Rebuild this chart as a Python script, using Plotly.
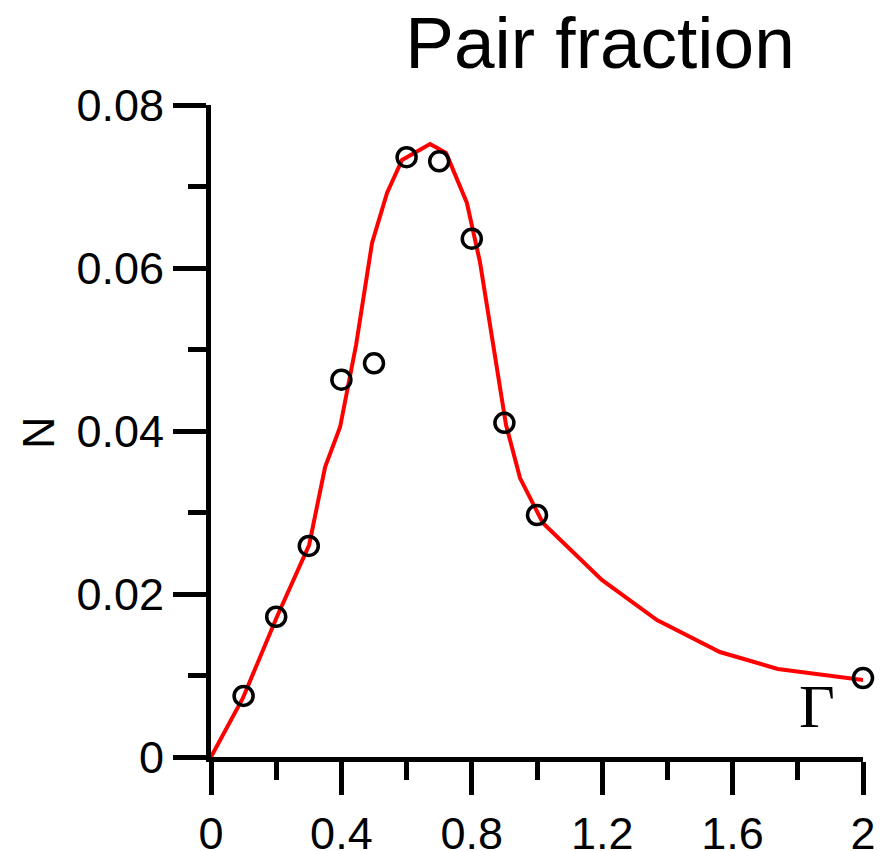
import plotly.graph_objects as go

# Measured points (open circles)
gamma_pts = [0.1, 0.2, 0.3, 0.4, 0.5, 0.6, 0.7, 0.8, 0.9, 1.0, 2.0]
n_pts = [0.0075, 0.0172, 0.0259, 0.0463, 0.0483, 0.0736, 0.0731, 0.0636, 0.0410, 0.0297, 0.0097]

# Theory curve (red line)
gamma_curve = [0.0, 0.098, 0.202, 0.301, 0.350, 0.396, 0.445, 0.494, 0.540, 0.586,
               0.672, 0.721, 0.785, 0.825, 0.905, 0.948, 1.018, 1.199, 1.368, 1.561,
               1.739, 2.0]
n_curve = [0.0, 0.00724, 0.01718, 0.02601, 0.03558, 0.04049, 0.05055, 0.06307, 0.06920,
           0.07325, 0.07521, 0.07411, 0.06798, 0.06074, 0.04074, 0.03423, 0.02871,
           0.02172, 0.01681, 0.01288, 0.01080, 0.00945]

x_ticks = [0, 0.4, 0.8, 1.2, 1.6, 2]
x_ticklabels = ["0", "0.4", "0.8", "1.2", "1.6", "2"]
y_ticks = [0, 0.02, 0.04, 0.06, 0.08]
y_ticklabels = ["0", "0.02", "0.04", "0.06", "0.08"]

fig = go.Figure()
fig.add_trace(go.Scatter(x=gamma_curve, y=n_curve, mode="lines",
                         line=dict(color="#ff0000", width=4), cliponaxis=False,
                         showlegend=False))
fig.add_trace(go.Scatter(x=gamma_pts, y=n_pts, mode="markers",
                         marker=dict(symbol="circle-open", size=19, color="black",
                                     line=dict(width=3.5, color="black")),
                         cliponaxis=False, showlegend=False))

font_fam = "Liberation Sans, Arial, sans-serif"
axis_common = dict(showline=True, linecolor="black", linewidth=5, ticks="outside",
                   ticklen=33, tickwidth=5, tickcolor="black", showgrid=False,
                   zeroline=False, automargin=False,
                   tickfont=dict(family=font_fam, size=45, color="black"))

fig.update_xaxes(range=[0, 2], tickvals=x_ticks, ticktext=x_ticklabels,
                 minor=dict(ticks="outside", ticklen=18, tickwidth=5, tickcolor="black",
                            dtick=0.2, tick0=0),
                 **axis_common)
fig.update_yaxes(range=[0, 0.08], tickvals=y_ticks, ticktext=y_ticklabels,
                 minor=dict(ticks="outside", ticklen=18, tickwidth=5, tickcolor="black",
                            dtick=0.01, tick0=0),
                 **axis_common)

fig.update_layout(
    width=885, height=851,
    margin=dict(l=211, r=22, t=105, b=94),
    paper_bgcolor="white", plot_bgcolor="white",
    title=dict(text="Pair fraction", xref="container", x=600 / 885, xanchor="center",
               yref="container", y=1 - 42 / 851, yanchor="middle",
               font=dict(family=font_fam, size=73, color="black")),
    annotations=[
        dict(text="N", xref="paper", yref="paper", x=(38 - 211) / 652, y=(757 - 432) / 652,
             showarrow=False, textangle=-90, xanchor="center", yanchor="middle",
             font=dict(family=font_fam, size=45, color="black")),
        dict(text="Γ", xref="x", yref="y", x=1.859, y=0.0063, showarrow=False,
             xanchor="center", yanchor="middle",
             font=dict(family="Liberation Serif, Times New Roman, serif", size=62, color="black")),
    ],
)

fig.write_html("out.html")
